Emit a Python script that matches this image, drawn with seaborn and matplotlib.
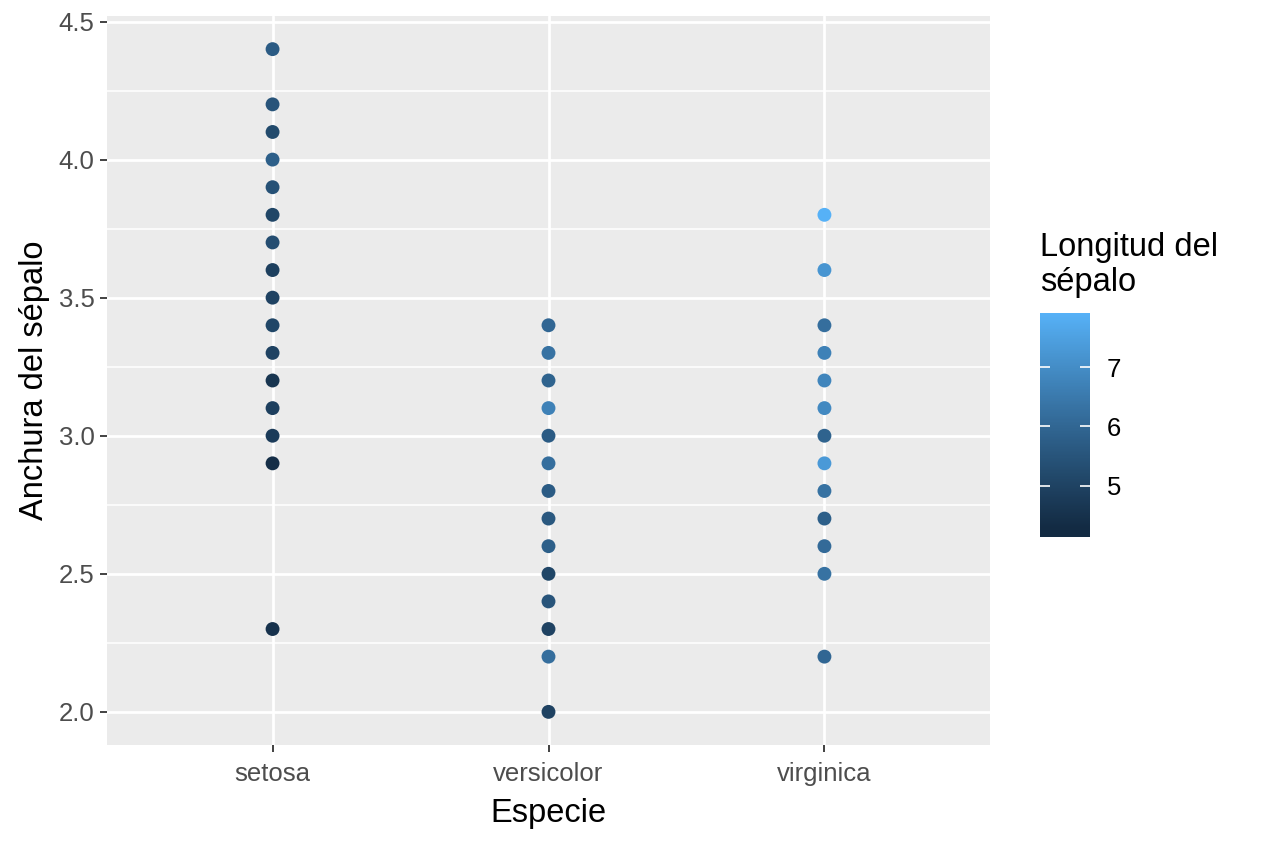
import matplotlib
matplotlib.use("Agg")
from matplotlib import pyplot as plt
from matplotlib.colors import ListedColormap, Normalize
from matplotlib.cm import ScalarMappable
import seaborn as sns
import numpy as np
import pandas as pd

# visible points (width) and the sepal length that colours each one
setosa_width = [2.3, 2.9, 3.0, 3.1, 3.2, 3.3, 3.4, 3.5, 3.6, 3.7, 3.8, 3.9, 4.0, 4.1, 4.2, 4.4]
setosa_length = [4.5, 4.4, 4.8, 4.9, 4.6, 5.0, 5.1, 5.0, 4.9, 5.3, 5.1, 5.4, 5.8, 5.2, 5.5, 5.7]

versicolor_width = [2.0, 2.2, 2.3, 2.4, 2.5, 2.6, 2.7, 2.8, 2.9, 3.0, 3.1, 3.2, 3.3, 3.4]
versicolor_length = [5.0, 6.2, 5.0, 5.5, 5.1, 5.8, 5.6, 5.7, 6.2, 5.7, 6.7, 5.9, 6.3, 6.0]

virginica_width = [2.2, 2.5, 2.6, 2.7, 2.8, 2.9, 3.0, 3.1, 3.2, 3.3, 3.4, 3.6, 3.8]
virginica_length = [6.0, 6.3, 6.1, 5.8, 6.3, 7.3, 5.9, 6.9, 6.8, 6.7, 6.2, 7.2, 7.9]

species = ["setosa", "versicolor", "virginica"]
length_range = (4.3, 7.9)
legend_ticks = [5, 6, 7]

df = pd.concat([
    pd.DataFrame({"Especie": "setosa", "Anchura": setosa_width, "Longitud": setosa_length}),
    pd.DataFrame({"Especie": "versicolor", "Anchura": versicolor_width, "Longitud": versicolor_length}),
    pd.DataFrame({"Especie": "virginica", "Anchura": virginica_width, "Longitud": virginica_length}),
])


# ggplot-like gradient, interpolated in Lab space
def hex_to_lab(h):
    rgb = np.array([int(h[i:i + 2], 16) for i in (1, 3, 5)]) / 255.0
    lin = np.where(rgb <= 0.04045, rgb / 12.92, ((rgb + 0.055) / 1.055) ** 2.4)
    m = np.array([[0.4124, 0.3576, 0.1805], [0.2126, 0.7152, 0.0722], [0.0193, 0.1192, 0.9505]])
    xyz = m @ lin / np.array([0.95047, 1.0, 1.08883])
    f = np.where(xyz > 0.008856, np.cbrt(xyz), 7.787 * xyz + 16 / 116)
    return np.array([116 * f[1] - 16, 500 * (f[0] - f[1]), 200 * (f[1] - f[2])])


def lab_to_rgb(lab):
    fy = (lab[0] + 16) / 116
    fx = fy + lab[1] / 500
    fz = fy - lab[2] / 200
    f = np.array([fx, fy, fz])
    xyz = np.where(f ** 3 > 0.008856, f ** 3, (f - 16 / 116) / 7.787) * np.array([0.95047, 1.0, 1.08883])
    m = np.array([[3.2406, -1.5372, -0.4986], [-0.9689, 1.8758, 0.0415], [0.0557, -0.2040, 1.0570]])
    lin = m @ xyz
    rgb = np.where(lin <= 0.0031308, 12.92 * lin, 1.055 * np.clip(lin, 0, None) ** (1 / 2.4) - 0.055)
    return np.clip(rgb, 0, 1)


lo, hi = hex_to_lab("#132B43"), hex_to_lab("#56B1F7")
cmap = ListedColormap([lab_to_rgb(lo + t * (hi - lo)) for t in np.linspace(0, 1, 256)])
norm = Normalize(*length_range)

sns.set_style("darkgrid", {"axes.facecolor": "#EBEBEB", "grid.color": "white"})
plt.rcParams["font.family"] = ["Liberation Sans", "DejaVu Sans"]

fig = plt.figure(figsize=(12.64, 8.43), dpi=100)
ax = fig.add_axes([107 / 1264, 98 / 843, 883 / 1264, 729 / 843])

sns.scatterplot(data=df, x="Especie", y="Anchura", hue="Longitud", palette=cmap,
                hue_norm=norm, s=100, linewidth=0, legend=False, ax=ax)

ax.set_xlim(-0.6, 2.6)
ax.set_ylim(1.88, 4.52)
ax.set_xticks(range(len(species)))
ax.set_xticklabels(species)
ax.set_yticks([2.0, 2.5, 3.0, 3.5, 4.0, 4.5])
ax.set_yticklabels(["2.0", "2.5", "3.0", "3.5", "4.0", "4.5"])
ax.set_yticks(np.arange(2.25, 4.5, 0.5), minor=True)
ax.grid(which="major", color="white", linewidth=2.0)
ax.grid(which="minor", axis="y", color="white", linewidth=1.1)
ax.set_axisbelow(True)
for s in ax.spines.values():
    s.set_visible(False)
ax.tick_params(axis="both", which="major", length=5, width=1.3, color="#333333",
               labelsize=18.5, labelcolor="#4D4D4D", pad=4, bottom=True, left=True)
ax.tick_params(axis="x", which="major", pad=7)
ax.tick_params(axis="y", which="minor", length=0)
ax.set_xlabel("Especie", fontsize=23.5, color="black", labelpad=9)
ax.set_ylabel("Anchura del sépalo", fontsize=23.5, color="black", labelpad=6)

# colour bar legend
cax = fig.add_axes([1040 / 1264, (843 - 537) / 843, 50 / 1264, 224 / 843])
cb = fig.colorbar(ScalarMappable(norm=norm, cmap=cmap), cax=cax,
                  boundaries=np.linspace(4.14, 7.91, 300))
cb.outline.set_visible(False)
cb.set_ticks(legend_ticks)
cax.grid(False)
cax.set_axisbelow(False)
cax.tick_params(axis="y", direction="in", left=True, right=True, color="white",
                length=7, width=1.2, labelsize=18.5, labelcolor="black", pad=12)
fig.text(1040 / 1264, (843 - 232) / 843, "Longitud del\nsépalo", fontsize=23.5,
         color="black", va="top", ha="left", linespacing=1.15)

fig.savefig("out.png", dpi=100)
